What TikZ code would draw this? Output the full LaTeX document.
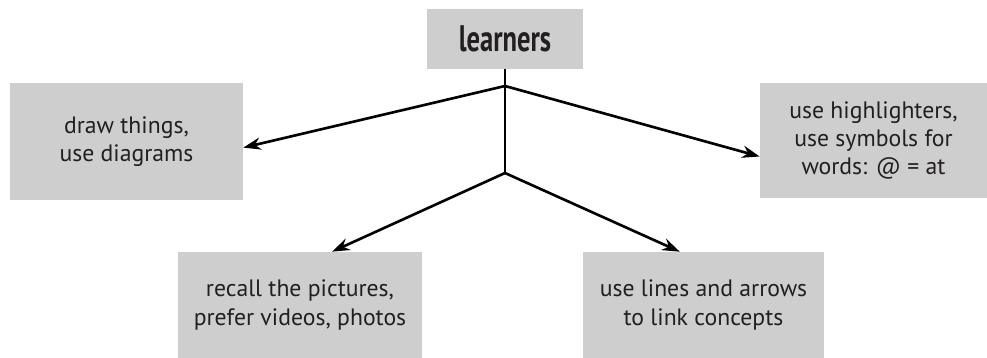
\documentclass[tikz,border=0pt]{standalone}
\usepackage{fontspec}
\setmainfont{PT Sans}
\newfontfamily\titlefont{PT Sans}[FakeStretch=0.72]
\usetikzlibrary{arrows.meta}

\definecolor{boxgray}{RGB}{206,206,206}
\definecolor{inkgray}{RGB}{35,31,32}

\begin{document}
\begin{tikzpicture}[x=0.02cm,y=-0.02cm,
    idea/.style={fill=boxgray, text=inkgray, align=center, inner sep=0pt,
                 font=\fontsize{13.5}{16}\selectfont},
    link/.style={line width=1.5pt, -{Stealth[length=10pt,width=7pt]}}]
  %uncomment to see the pixel frame it was laid out on:
  %\draw[dotted,step=50,black,very thin] (0,0) grid (987,358);
  \useasboundingbox (0,0) rectangle (987,358);

  % the central box
  \node[idea, minimum width=3.12cm, minimum height=1.2cm,
        font=\titlefont\fontsize{21}{24}\selectfont\bfseries] (top) at (505,39) {learners};

  % the four ways of learning
  \node[idea, minimum width=4.66cm, minimum height=2.34cm] (left) at (126.5,141.5)
        {draw things,\\use diagrams};
  \node[idea, minimum width=4.54cm, minimum height=2.3cm] (right) at (873.5,140.5)
        {use highlighters,\\use symbols for\\words: @ = at};
  \node[idea, minimum width=4.88cm, minimum height=2.12cm] (pictures) at (300,305)
        {recall the pictures,\\prefer videos, photos};
  \node[idea, minimum width=4.82cm, minimum height=2.12cm] (lines) at (703.5,305)
        {use lines and arrows\\to link concepts};

  % branching points on the stem
  \coordinate (fork) at (505,86);
  \coordinate (lowfork) at (505,173);

  % the stem
  \draw[line width=1.5pt] (top.south) -- (fork) -- (lowfork);
  % the arrows
  \draw[link] (fork) -- (left.-3);
  \draw[link] (fork) -- (right.188);
  \draw[link] (lowfork) -- (pictures.59);
  \draw[link] (lowfork) -- (lines.114);
\end{tikzpicture}
\end{document}
